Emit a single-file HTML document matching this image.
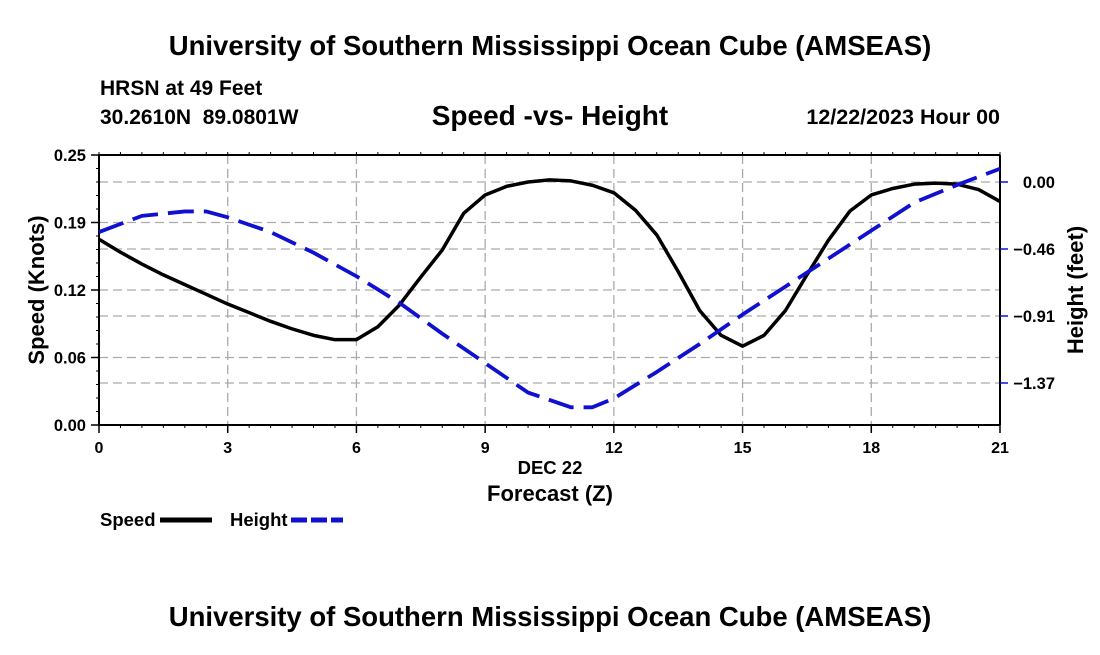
<!DOCTYPE html>
<html><head><meta charset="utf-8"><style>
body{margin:0;background:#fff;width:1100px;height:650px;overflow:hidden}
svg{font-family:"Liberation Sans",Arial,sans-serif;font-weight:bold}
</style></head><body>
<svg id="c" width="1100" height="650">
<text x="550" y="55" text-anchor="middle" font-size="27.5">University of Southern Mississippi Ocean Cube (AMSEAS)</text>
<text x="100" y="95" font-size="21">HRSN at 49 Feet</text>
<text x="100" y="124" font-size="21" xml:space="preserve">30.2610N  89.0801W</text>
<text x="550" y="125" text-anchor="middle" font-size="28">Speed -vs- Height</text>
<text x="1000" y="124" text-anchor="end" font-size="21.5">12/22/2023 Hour 00</text>
<text x="550" y="474" text-anchor="middle" font-size="18.5">DEC 22</text>
<text x="550" y="501" text-anchor="middle" font-size="22">Forecast (Z)</text>
<text transform="translate(44,290) rotate(-90)" text-anchor="middle" font-size="22">Speed (Knots)</text>
<text transform="translate(1083,290) rotate(-90)" text-anchor="middle" font-size="22">Height (feet)</text>
<g>
<text x="100" y="526" font-size="18.5">Speed</text>
<line x1="160" y1="520" x2="212" y2="520" stroke="#000" stroke-width="5"/>
<text x="230" y="526" font-size="18.5">Height</text>
<line x1="291" y1="520" x2="343" y2="520" stroke="#1010d0" stroke-width="5" stroke-dasharray="16,4"/>
</g>
<text x="550" y="626" text-anchor="middle" font-size="27.5">University of Southern Mississippi Ocean Cube (AMSEAS)</text>
<g id="plot"></g>
</svg>
<script>
const speedTimes=[0,0.5,1,1.5,2,2.5,3,3.5,4,4.5,5,5.5,6,6.5,7,7.5,8,8.5,9,9.5,10,10.5,11,11.5,12,12.5,13,13.5,14,14.5,15,15.5,16,16.5,17,17.5,18,18.5,19,19.5,20,20.5,21];
const speedValues=[0.172,0.160,0.149,0.139,0.130,0.121,0.112,0.104,0.096,0.089,0.083,0.079,0.079,0.091,0.111,0.137,0.162,0.196,0.213,0.221,0.225,0.227,0.226,0.222,0.215,0.199,0.176,0.142,0.106,0.083,0.073,0.083,0.106,0.139,0.171,0.198,0.213,0.219,0.223,0.224,0.223,0.218,0.207];
const heightTimes=[0,1,2,2.5,3,4,5,6,7,8,9,10,11,11.5,12,13,14,15,16,17,18,19,20,21];
const heightValues=[-0.34,-0.23,-0.20,-0.20,-0.24,-0.34,-0.48,-0.64,-0.82,-1.03,-1.23,-1.43,-1.53,-1.53,-1.47,-1.29,-1.10,-0.90,-0.71,-0.52,-0.33,-0.14,-0.02,0.09];
const xTicks=[0,3,6,9,12,15,18,21];
const leftTicks=[0,0.0625,0.125,0.1875,0.25];
const leftTickLabels=["0.00","0.06","0.12","0.19","0.25"];
const rightTicks=[0,-0.455,-0.91,-1.365];
const rightTickLabels=["0.00","-0.46","-0.91","-1.37"];
const L=99,R=1000,T=155,B=425;
const X=t=>L+(t/21)*(R-L);
const YL=v=>B-(v/0.25)*(B-T);
const YR=v=>182+(v/-0.455)*(249-182);
const g=document.getElementById('plot');
const NS='http://www.w3.org/2000/svg';
function mk(tag,attrs){const e=document.createElementNS(NS,tag);for(const k in attrs)e.setAttribute(k,attrs[k]);g.appendChild(e);return e;}
const hGrid=leftTicks.slice(1,4).map(YL).concat(rightTicks.map(YR));
hGrid.forEach((y,i)=>{const e=mk('line',{x1:L,x2:R,y1:y,y2:y,stroke:'#aaa','stroke-width':1.3,'stroke-dasharray':'9,5'});

});
xTicks.slice(1,-1).forEach(t=>{const e=mk('line',{x1:X(t),x2:X(t),y1:T,y2:B,stroke:'#aaa','stroke-width':1.3,'stroke-dasharray':'9,5'});

});
[[L,T,R,T],[L,B,R,B],[L,T,L,B],[R,T,R,B]].forEach(a=>{const e=mk('line',{x1:a[0],y1:a[1],x2:a[2],y2:a[3],stroke:'#000','stroke-width':2});

});
for(let t=0;t<=21;t+=0.5){const x=X(t);
const a=mk('line',{x1:x,x2:x,y1:T-3,y2:T,stroke:'#000','stroke-width':1});


const b=mk('line',{x1:x,x2:x,y1:B,y2:B+3,stroke:'#000','stroke-width':1});

}
for(let v=0;v<=0.25;v+=0.0125){const y=YL(v);
const a=mk('line',{x1:L-3,x2:L,y1:y,y2:y,stroke:'#000','stroke-width':1});

}
xTicks.forEach(t=>{const a=mk('line',{x1:X(t),x2:X(t),y1:B,y2:B+8,stroke:'#000','stroke-width':1.5});


const e=mk('text',{x:X(t),y:B+28,'text-anchor':'middle','font-size':16});e.textContent=t;

});
leftTicks.forEach((v,i)=>{const y=YL(v);
const a=mk('line',{x1:L-8,x2:L,y1:y,y2:y,stroke:'#000','stroke-width':1.5});


const e=mk('text',{x:86,y:y+6,'text-anchor':'end','font-size':16.5});e.textContent=leftTickLabels[i];

});
rightTicks.forEach((v,i)=>{const y=YR(v);
const a=mk('line',{x1:R,x2:R+8,y1:y,y2:y,stroke:'#1010d0','stroke-width':1.5});


const e=mk('text',{x:1055,y:y+6,'text-anchor':'end','font-size':16.5});e.textContent=rightTickLabels[i].replace('-','\u2212');

});
const sp=mk('polyline',{points:speedTimes.map((t,i)=>X(t)+','+YL(speedValues[i])).join(' '),fill:'none',stroke:'#000','stroke-width':3.5,'stroke-linejoin':'round'});


const hp=mk('polyline',{points:heightTimes.map((t,i)=>X(t)+','+YR(heightValues[i])).join(' '),fill:'none',stroke:'#1010d0','stroke-width':3.8,'stroke-dasharray':'26,10','stroke-linejoin':'round'});


</script>
</body></html>
